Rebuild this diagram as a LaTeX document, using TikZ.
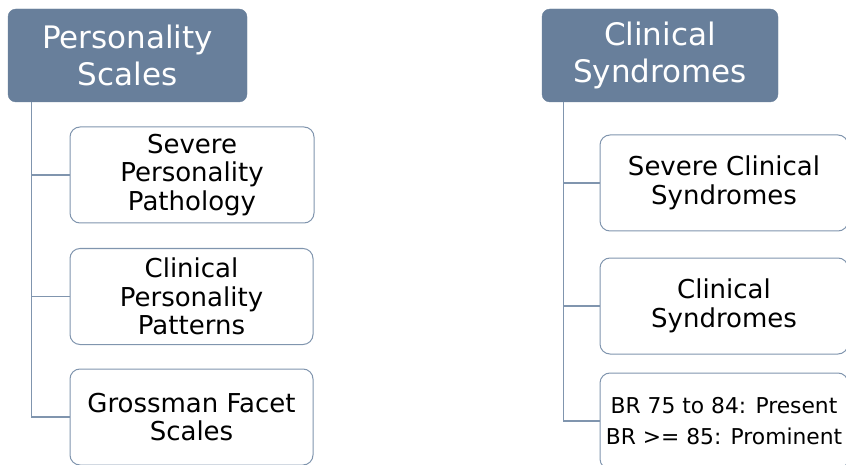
\documentclass[tikz,border=0pt]{standalone}
\usepackage{fontspec}
\setmainfont{DejaVu Sans}
\definecolor{headfill}{HTML}{687F9B}
\definecolor{boxline}{HTML}{8095AE}
\begin{document}
\begin{tikzpicture}[x=1pt,y=-1pt,
  headbox/.style={rectangle, rounded corners=8pt, fill=headfill, draw=headfill,
    text=white, align=center, inner sep=0pt,
    font=\fontsize{31}{37}\selectfont},
  itembox/.style={rectangle, rounded corners=10pt, fill=white, draw=boxline,
    line width=1pt, align=center, inner sep=0pt, minimum height=96pt,
    font=\fontsize{26}{28.5}\selectfont},
  smallitem/.style={itembox, font=\fontsize{21.8}{31}\selectfont},
  link/.style={draw=boxline, line width=1.2pt}]
\useasboundingbox (0,0) rectangle (846,465);
\clip (0,0) rectangle (846,465);

% Left tree: personality scales
\node[headbox, minimum width=239pt, minimum height=93pt] (h1) at (127.5,55.5)
  {Personality\\Scales};
\node[itembox, minimum width=244pt] (a1) at (192,175)
  {Severe\\Personality\\Pathology};
\node[itembox, minimum width=243pt] (a2) at (191.5,296.5)
  {Clinical\\Personality\\Patterns};
\node[itembox, minimum width=243pt] (a3) at (191.5,417)
  {Grossman Facet\\Scales};
\draw[link] ([xshift=24pt]h1.south west) |- (a1.west);
\draw[link] ([xshift=24pt]h1.south west) |- (a2.west);
\draw[link] ([xshift=24pt]h1.south west) |- (a3.west);

% Right tree: clinical syndromes
\node[headbox, minimum width=236pt, minimum height=93pt] (h2) at (660,55.5)
  {Clinical\\Syndromes};
\node[itembox, minimum width=248pt] (b1) at (724,183)
  {Severe Clinical\\Syndromes};
\node[itembox, minimum width=248pt] (b2) at (724,306)
  {Clinical\\Syndromes};
\node[smallitem, minimum width=248pt] (b3) at (724,421)
  {BR 75 to 84: Present\\BR >= 85: Prominent};
\draw[link] ([xshift=22pt]h2.south west) |- (b1.west);
\draw[link] ([xshift=22pt]h2.south west) |- (b2.west);
\draw[link] ([xshift=22pt]h2.south west) |- (b3.west);
\end{tikzpicture}
\end{document}
